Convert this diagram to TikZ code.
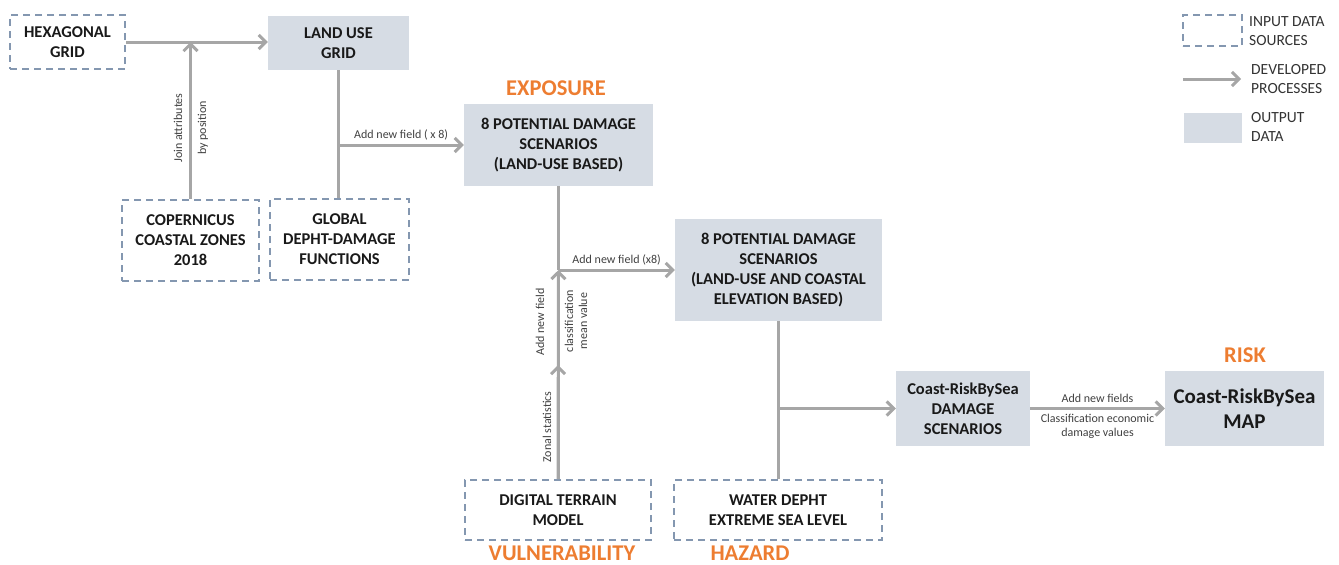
\documentclass[tikz,border=0pt]{standalone}
\usepackage{fontspec}
\setmainfont{Carlito}
\usetikzlibrary{arrows.meta}

\definecolor{boxfill}{RGB}{214,220,228}
\definecolor{boxdash}{RGB}{132,151,176}
\definecolor{flowgray}{RGB}{166,166,166}
\definecolor{stageorange}{RGB}{237,125,49}

\tikzset{
  inbox/.style={draw=boxdash, line width=2pt, dash pattern=on 7pt off 5pt,
    align=center, inner sep=2pt, font=\fontsize{16.5}{20}\selectfont\bfseries},
  outbox/.style={fill=boxfill, align=center, inner sep=2pt,
    font=\fontsize{16.5}{20}\selectfont\bfseries},
  flow/.style={draw=flowgray, line width=3pt},
  proc/.style={flow, -{Straight Barb[length=7pt,width=14pt,line width=3pt]}},
  lbl/.style={font=\fontsize{12}{14}\selectfont, text=black!75, align=center, inner sep=2pt},
  stage/.style={font=\fontsize{22.5}{26}\selectfont\bfseries, text=stageorange},
  legtxt/.style={anchor=west, font=\fontsize{15.5}{18.5}\selectfont, text=black!80, align=left, inner sep=0pt},
}

\begin{document}
\begin{tikzpicture}[x=1pt, y=-1pt, text=black!90]
    \useasboundingbox (0,0) rectangle (1339,565);

    % Input data sources
    \node[inbox, minimum width=115pt, minimum height=54pt] (hex) at (67.5,42) {HEXAGONAL\\GRID};
    \node[inbox, minimum width=137pt, minimum height=81pt] (cop) at (190.5,240.5) {COPERNICUS\\COASTAL ZONES\\2018};
    \node[inbox, minimum width=139pt, minimum height=81pt] (ddf) at (339.5,239.5) {GLOBAL\\DEPHT-DAMAGE\\FUNCTIONS};
    \node[inbox, minimum width=186pt, minimum height=60pt] (dtm) at (558,510) {DIGITAL TERRAIN\\MODEL};
    \node[inbox, minimum width=208pt, minimum height=60pt] (water) at (778,510) {WATER DEPHT\\EXTREME SEA LEVEL};

    % Output data
    \node[outbox, minimum width=141pt, minimum height=54pt] (landuse) at (338.5,43) {LAND USE\\GRID};
    \node[outbox, minimum width=189pt, minimum height=82pt] (expo) at (558.5,145) {8 POTENTIAL DAMAGE\\SCENARIOS\\(LAND-USE BASED)};
    \node[outbox, minimum width=207pt, minimum height=102pt] (elev) at (778.5,270) {8 POTENTIAL DAMAGE\\SCENARIOS\\(LAND-USE AND COASTAL\\ELEVATION BASED)};
    \node[outbox, minimum width=134pt, minimum height=75pt] (dmg) at (963,408.5) {Coast-RiskBySea\\DAMAGE\\SCENARIOS};
    \node[outbox, minimum width=159pt, minimum height=75pt, font=\fontsize{21}{25}\selectfont\bfseries] (riskmap) at (1244.5,408.5) {Coast-RiskBySea\\MAP};

    % Stages
    \node[stage] (exposure) at (556,88) {EXPOSURE};
    \node[stage] (vulnerability) at (562,553) {VULNERABILITY};
    \node[stage] (hazard) at (750,553) {HAZARD};
    \node[stage] (risk) at (1245,355) {RISK};

    % Developed processes
    \draw[proc] (hex.east) -- (hex.east -| landuse.west);
    \draw[proc] (cop.north) -- (cop.north |- hex.east);
    \node[lbl, rotate=90] (joinlbl) at (178,128) {Join attributes};
    \node[lbl, rotate=90] (poslbl) at (203,128) {by position};

    \coordinate (j1) at (landuse.south |- expo.west);
    \draw[flow] (landuse.south) -- (landuse.south |- ddf.north);
    \draw[proc] (j1) -- (expo.west) node[lbl, midway, above, yshift=1pt] {Add new field ( x 8)};

    \coordinate (j2) at (expo.south |- elev.west);
    \coordinate (m2) at (558,365);
    \draw[flow] (expo.south) -- (j2);
    \draw[proc] (dtm.north) -- (m2);
    \draw[proc] (dtm.north) -- (j2);
    \draw[proc] (j2) -- (elev.west) node[lbl, midway, above, yshift=1pt] {Add new field (x8)};
    \node[lbl, rotate=90] (zonlbl) at (547,427) {Zonal statistics};
    \node[lbl, rotate=90] (addlbl) at (540,322) {Add new field};
    \node[lbl, rotate=90] (classlbl) at (576,321) {classification\\mean value};

    \coordinate (j3) at (elev.south |- dmg.west);
    \draw[flow] (elev.south) -- (elev.south |- water.north);
    \draw[proc] (j3) -- (dmg.west);

    \draw[proc] (dmg.east) -- (riskmap.west)
        node[lbl, midway, above, yshift=2pt] {Add new fields}
        node[lbl, midway, below, yshift=-2pt] {Classification economic\\damage values};

    % Legend
    \node[draw=boxdash, line width=2pt, dash pattern=on 7pt off 5pt, minimum width=59pt, minimum height=31pt, inner sep=0pt] (leginput) at (1212.5,30.5) {};
    \node[fill=boxfill, minimum width=58pt, minimum height=30pt, inner sep=0pt] (legoutput) at (1213,128) {};
    \coordinate (legA) at (1183,79);
    \coordinate (legB) at (1241,79);
    \draw[proc] (legA) -- (legB);
    \node[legtxt] (leginlbl) at (1249,31) {INPUT DATA\\SOURCES};
    \node[legtxt] (legproclbl) at (1251,79) {DEVELOPED\\PROCESSES};
    \node[legtxt] (legoutlbl) at (1251,127) {OUTPUT\\DATA};
\end{tikzpicture}
\end{document}
